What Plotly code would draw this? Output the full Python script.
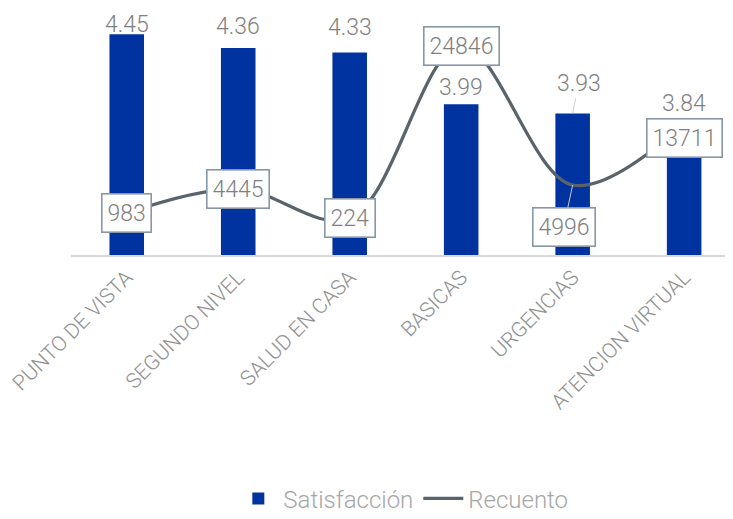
import plotly.graph_objects as go

categories = ["PUNTO DE VISTA", "SEGUNDO NIVEL", "SALUD EN CASA", "BASICAS", "URGENCIAS", "ATENCION VIRTUAL"]
satisfaccion = [4.45, 4.36, 4.33, 3.99, 3.93, 3.84]
recuento = [983, 4445, 224, 24846, 4996, 13711]

# label offsets (pixels) — styling only
sat_label_shift = [10, 22, 25, 17, 30, 24]
rec_label_shift = [0, 0, 0, 0, 0, -14]

BAR = "#00339f"
LINE = "#58636c"
FONT = "Roboto"
W = 300

fig = go.Figure()
fig.add_trace(go.Bar(
    x=categories, y=satisfaccion, name="Satisfacción",
    marker=dict(color=BAR, line=dict(width=0)), width=0.31,
))
fig.add_trace(go.Scatter(
    x=categories, y=recuento, name="Recuento", yaxis="y2",
    mode="lines", line=dict(color=LINE, width=3.2, shape="spline", smoothing=1.0),
))

annotations = []
for i, (c, v) in enumerate(zip(categories, satisfaccion)):
    if c == "URGENCIAS":
        annotations.append(dict(
            x=c, y=v, xref="x", yref="y", text=f"{v:.2f}",
            showarrow=True, arrowhead=0, arrowwidth=1, arrowcolor="#d0d0d0",
            ax=6, ay=-sat_label_shift[i], standoff=0,
            font=dict(family=FONT, size=23, color="#808080", weight=W),
        ))
    else:
        annotations.append(dict(
            x=c, y=v, xref="x", yref="y", text=f"{v:.2f}",
            showarrow=False, yshift=sat_label_shift[i],
            font=dict(family=FONT, size=23, color="#808080", weight=W),
        ))

for i, (c, v) in enumerate(zip(categories, recuento)):
    common = dict(
        x=c, y=v, xref="x", yref="y2", text=str(v),
        bgcolor="white", bordercolor="#8797a8", borderwidth=1.6, borderpad=5,
        font=dict(family=FONT, size=23, color="#808080", weight=W),
    )
    if c == "URGENCIAS":
        annotations.append(dict(
            **common, showarrow=True, arrowhead=0, arrowwidth=1, arrowcolor="#c8c8c8",
            ax=-9, ay=42, standoff=0,
        ))
    else:
        annotations.append(dict(**common, showarrow=False, yshift=rec_label_shift[i]))

fig.update_layout(
    width=733, height=519,
    margin=dict(l=60, r=0, t=2, b=272),
    paper_bgcolor="white", plot_bgcolor="white",
    showlegend=True,
    legend=dict(
        orientation="h", x=0.496, xanchor="center", y=-0.995, yanchor="middle",
        font=dict(family=FONT, size=24, color="#a6a6a6", weight=W),
        itemwidth=40, traceorder="normal",
    ),
    xaxis=dict(
        range=[-0.5, 5.51], showgrid=False, zeroline=False,
        showline=True, linecolor="#d9d9d9", linewidth=1.5,
        tickangle=-45, ticks="",
        tickfont=dict(family=FONT, size=21, color="#8f8f8f", weight=W),
    ),
    yaxis=dict(range=[3, 4.61], visible=False, showgrid=False, zeroline=False),
    yaxis2=dict(range=[-5000, 30000], overlaying="y", side="right",
                visible=False, showgrid=False, zeroline=False),
    annotations=annotations,
    bargap=0.69,
)

fig.write_html("out.html")
